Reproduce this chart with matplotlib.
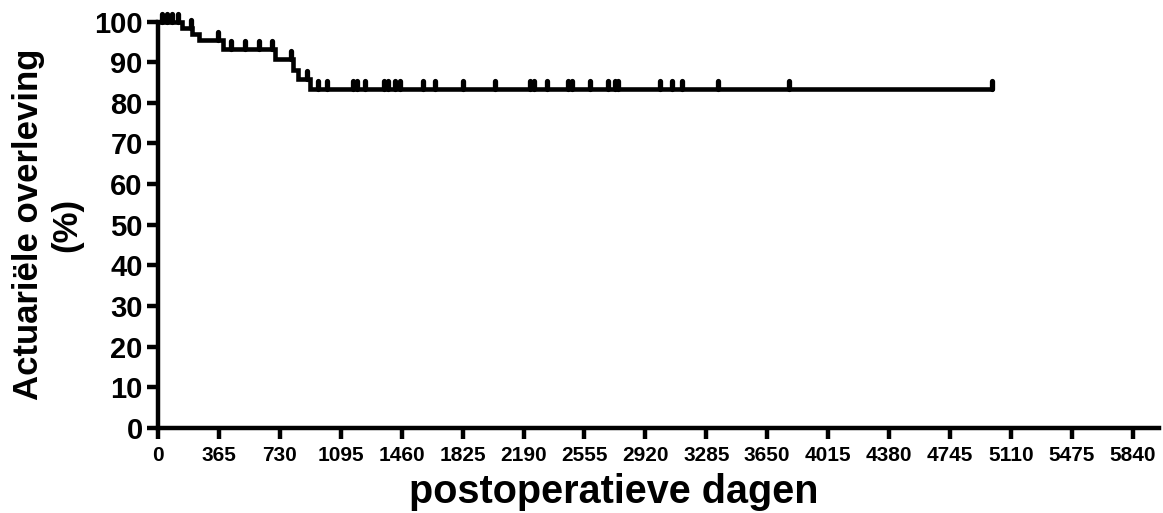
import matplotlib
matplotlib.use("Agg")
import matplotlib.pyplot as plt
from matplotlib.markers import MarkerStyle
from matplotlib.path import Path
import numpy as np

# Kaplan-Meier steps (days, % surviving)
event_days = [0, 141, 205, 245, 390, 700, 810, 840, 910]
survival = [100, 98.3, 96.9, 95.4, 93.3, 90.7, 88.0, 85.8, 83.3]

# censored patients (days)
censor_days = [25, 55, 85, 120, 195, 360, 440, 520, 605, 680, 795, 895,
               960, 1010, 1168, 1190, 1240, 1354, 1378, 1420, 1450, 1589,
               1660, 1829, 2016, 2230, 2255, 2329, 2455, 2480, 2588, 2698,
               2738, 2758, 3010, 3078, 3138, 3357, 3782, 4994]

x_ticks = list(range(0, 5841, 365))
y_ticks = list(range(0, 101, 10))

plt.rcParams['font.family'] = ['Liberation Sans', 'DejaVu Sans']
plt.rcParams['font.weight'] = 'bold'

fig = plt.figure(figsize=(11.63, 5.13), dpi=100)
ax = fig.add_axes([0.1359, 0.166, 0.861, 0.792])

end_day = censor_days[-1]
xs = event_days + [end_day]
ys = survival + [survival[-1]]
ax.step(xs, ys, where='post', color='black', lw=3.3, clip_on=False,
        solid_joinstyle='miter', solid_capstyle='round')

# censor marks: short upward ticks sitting on the curve
idx = np.searchsorted(event_days, censor_days, side='right') - 1
censor_surv = np.array(survival)[idx]
tick_marker = MarkerStyle(Path([(0, 0), (0, 1)]), capstyle='round')
ax.plot(censor_days, censor_surv, ls='none', marker=tick_marker,
        markersize=11, markeredgewidth=3.8, color='black', clip_on=False)

ax.set_xlim(0, 6000)
ax.set_ylim(0, 100)
ax.set_xticks(x_ticks)
ax.set_yticks(y_ticks)
ax.set_xticklabels([str(t) for t in x_ticks], fontsize=15, fontweight='bold')
ax.set_yticklabels([str(t) for t in y_ticks], fontsize=21, fontweight='bold')

for side in ['top', 'right']:
    ax.spines[side].set_visible(False)
for side in ['left', 'bottom']:
    ax.spines[side].set_linewidth(3.2)
    ax.spines[side].set_capstyle('projecting')

ax.tick_params(axis='both', length=8, width=3.2, direction='out')
ax.tick_params(axis='x', pad=5)
ax.tick_params(axis='y', pad=3)

ax.set_xlabel('postoperatieve dagen', fontsize=28.5, fontweight='bold')
ax.xaxis.set_label_coords(0.455, -0.11)
ax.set_ylabel('Actuariële overleving\n(%)', fontsize=25, fontweight='bold',
              labelpad=8, linespacing=1.2)

fig.savefig('out.png', dpi=100)
